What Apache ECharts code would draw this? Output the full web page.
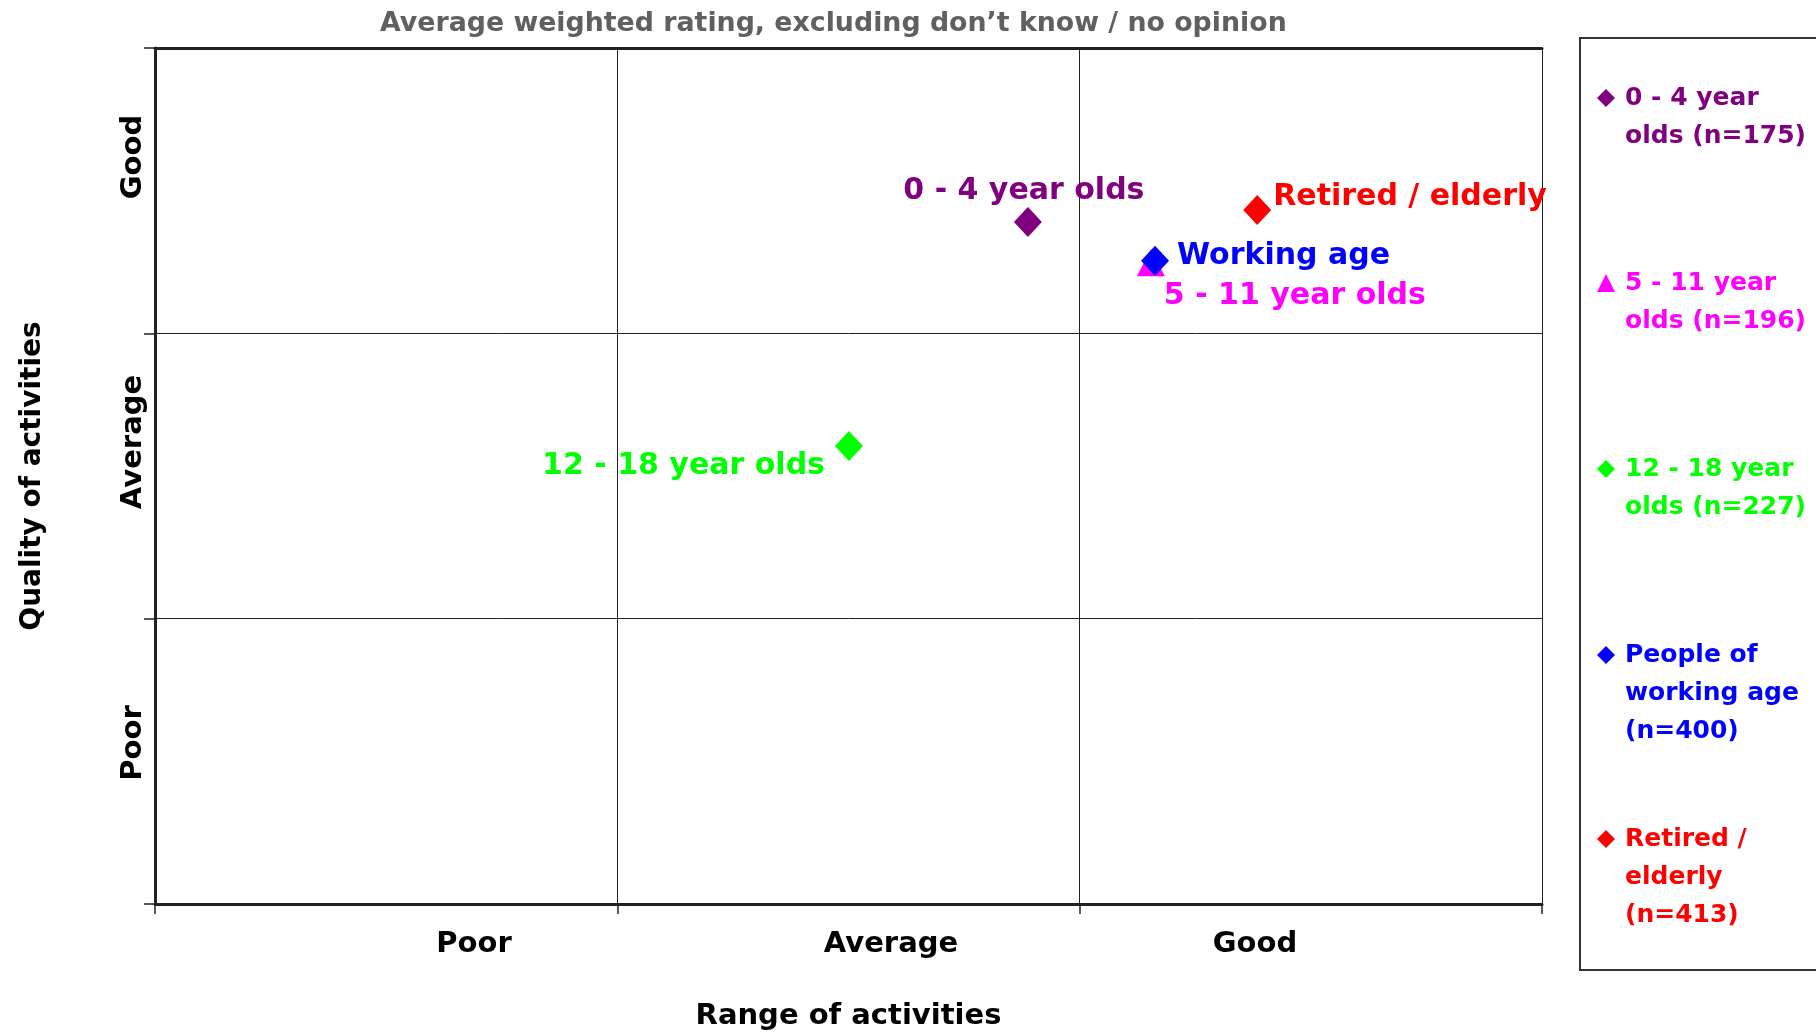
<!DOCTYPE html>
<html>
<head>
<meta charset="utf-8">
<script src="https://cdn.jsdelivr.net/npm/echarts@6/dist/echarts.min.js"></script>
<style>
  html, body { margin: 0; padding: 0; background: #fff; }
  #chart { width: 1816px; height: 1032px; }
</style>
</head>
<body>
<div id="chart"></div>
<script>
// ---- data ----
const groupLabels = ['0 - 4 year olds', '5 - 11 year olds', '12 - 18 year olds', 'Working age', 'Retired / elderly'];
const legendNames = [
    '0 - 4 year\nolds (n=175)',
    '5 - 11 year\nolds (n=196)',
    '12 - 18 year\nolds (n=227)',
    'People of\nworking age\n(n=400)',
    'Retired /\nelderly\n(n=413)'
];
const rangeScore = [1.888, 2.154, 1.501, 2.163, 2.384];     // x: range of activities
const qualityScore = [2.390, 2.247, 1.605, 2.254, 2.432];   // y: quality of activities
const ratingLevels = ['Poor', 'Average', 'Good'];

// ---- styling ----
const FONT = '"DejaVu Sans", "Liberation Sans", Arial, sans-serif';
const groupColors = ['#800080', '#ff00ff', '#00ff00', '#0000ff', '#ff0000'];
const groupSymbols = ['diamond', 'triangle', 'diamond', 'diamond', 'diamond'];
const symbolSizes = [[28, 30], [28, 27], [28, 30], [28, 30], [28, 30]];
const labelPlacement = [
    { position: 'top', distance: 1, offset: [-4, 0] },
    { position: 'right', distance: -1, offset: [0, 33] },
    { position: 'left', distance: 10, offset: [0, 20] },
    { position: 'right', distance: 8, offset: [0, -5] },
    { position: 'right', distance: 2, offset: [0, -13] }
];
// first-line centres of the legend entries (px)
const legendLineY = [96, 281, 467, 653, 837];
const xTickX = [474, 891, 1255];
const yTickY = [743, 442, 157];
const LINE = '#222';

const chart = echarts.init(document.getElementById('chart'), null, { renderer: 'canvas' });

const series = groupLabels.map((g, i) => ({
    name: legendNames[i],
    type: 'scatter',
    xAxisIndex: 0,
    yAxisIndex: 0,
    data: [{ name: g, value: [rangeScore[i], qualityScore[i]] }],
    symbol: groupSymbols[i],
    symbolSize: symbolSizes[i],
    itemStyle: { color: groupColors[i], opacity: 1 },
    label: {
        show: true,
        formatter: p => p.name,
        color: groupColors[i],
        fontFamily: FONT,
        fontWeight: 'bold',
        fontSize: 30,
        ...labelPlacement[i]
    },
    z: 3 + i
}));

// one legend per entry so every block keeps its own top; blank lines put the icon on line 1
const legends = legendNames.map((n, i) => {
    const lines = n.split('\n').length;
    return {
        data: [n],
        orient: 'vertical',
        left: 1597,
        top: legendLineY[i] - 19 * (2 * lines - 1) + 2,
        padding: 0,
        itemWidth: 18,
        itemHeight: 18,
        selectedMode: false,
        formatter: name => '\n'.repeat(lines - 1) + name,
        textStyle: {
            color: groupColors[i],
            fontFamily: FONT,
            fontWeight: 'bold',
            fontSize: 25,
            lineHeight: 38,
            padding: [0, 0, 0, 5]
        }
    };
});

const graphics = [
    {
        type: 'rect',
        shape: { x: 1580, y: 38, width: 300, height: 932 },
        style: { fill: 'none', stroke: '#333', lineWidth: 2 },
        silent: true
    }
];
ratingLevels.forEach((t, i) => {
    graphics.push({
        type: 'text',
        x: xTickX[i], y: 944,
        style: { text: t, x: 0, y: 0, align: 'center', verticalAlign: 'middle',
                 font: 'bold 29px ' + FONT, fill: '#000' }
    });
    graphics.push({
        type: 'text',
        x: 133, y: yTickY[i],
        rotation: Math.PI / 2,
        style: { text: t, x: 0, y: 0, align: 'center', verticalAlign: 'middle',
                 font: 'bold 29px ' + FONT, fill: '#000' }
    });
});

const axisNameStyle = { color: '#000', fontFamily: FONT, fontWeight: 'bold', fontSize: 29 };

chart.setOption({
    animation: false,
    backgroundColor: '#fff',
    title: {
        text: 'Average weighted rating, excluding don\u2019t know / no opinion',
        left: 380,
        top: 11,
        padding: 0,
        textStyle: { color: '#606060', fontFamily: FONT, fontWeight: 'bold', fontSize: 26.8 }
    },
    grid: { left: 155, right: 274, top: 48, bottom: 128, show: false, outerBoundsMode: 'none' },
    xAxis: [
        {
            type: 'value', min: 0, max: 3, interval: 1, position: 'bottom',
            name: 'Range of activities', nameLocation: 'middle', nameGap: 98,
            nameTextStyle: axisNameStyle,
            axisLine: { show: true, onZero: false, lineStyle: { color: LINE, width: 3 } },
            axisTick: { show: true, length: 10, lineStyle: { color: LINE, width: 1.5 } },
            axisLabel: { show: false },
            splitLine: { show: true, lineStyle: { color: LINE, width: 1 } }
        },
        {
            type: 'value', min: 0, max: 3, interval: 1, position: 'top',
            axisLine: { show: true, onZero: false, lineStyle: { color: LINE, width: 3 } },
            axisTick: { show: false },
            axisLabel: { show: false },
            splitLine: { show: false }
        }
    ],
    yAxis: {
        type: 'value', min: 0, max: 3, interval: 1, position: 'left',
        name: 'Quality of activities', nameLocation: 'middle', nameGap: 108,
        nameTextStyle: { ...axisNameStyle, fontSize: 28 },
        axisLine: { show: true, onZero: false, lineStyle: { color: LINE, width: 3 } },
        axisTick: { show: true, length: 11, lineStyle: { color: LINE, width: 1.5 } },
        axisLabel: { show: false },
        splitLine: { show: true, lineStyle: { color: LINE, width: 1 } }
    },
    legend: legends,
    graphic: graphics,
    series: series
});
</script>
</body>
</html>
